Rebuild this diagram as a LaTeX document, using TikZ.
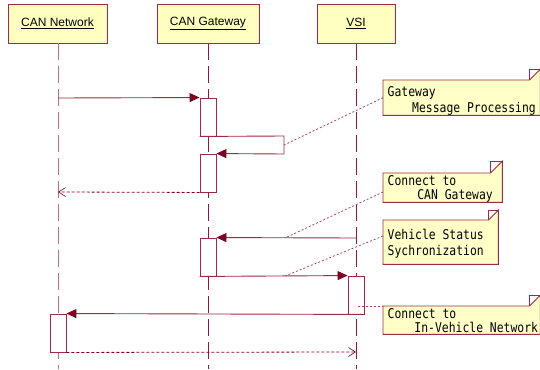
\documentclass[tikz,border=0pt]{standalone}
\usepackage{fontspec}
\usepackage{graphicx}
\setmainfont{Liberation Sans}
\newfontfamily\notefont{DejaVu Sans Mono}
\usetikzlibrary{arrows.meta,calc}
\definecolor{frame}{RGB}{160,40,72}
\definecolor{tipc}{RGB}{128,0,32}
\definecolor{lifea}{RGB}{192,112,128}
\definecolor{lifeb}{RGB}{144,24,56}
\definecolor{headfill}{RGB}{255,255,192}
\definecolor{notefill}{RGB}{255,255,200}
\definecolor{linkc}{RGB}{176,72,100}
\newcommand{\tallline}[1]{\scalebox{1}[1.18]{#1}}
\tikzset{
  headbox/.style={draw=frame,fill=headfill,line width=0.9pt,minimum height=39pt,inner sep=0pt,font=\fontsize{12}{14}\selectfont},
  lifeline/.style={line width=0.9pt,dash pattern=on 17pt off 6pt},
  actbox/.style={draw=frame,fill=white,line width=0.9pt,minimum width=16pt,minimum height=38pt,inner sep=0pt},
  callmsg/.style={draw=frame,line width=0.9pt,-{Triangle[length=10pt,width=9pt,color=tipc]}},
  retmsg/.style={draw=tipc,line width=0.8pt,dash pattern=on 3pt off 2pt,-{Straight Barb[length=7pt,width=9pt,line width=0.6pt]}},
  noteframe/.style={draw=none,fill=none,anchor=north west,inner sep=0pt},
  notetext/.style={anchor=north west,inner xsep=4.5pt,align=left,font=\notefont\fontsize{11.4}{16}\selectfont},
  notelink/.style={draw=linkc,line width=0.8pt,dash pattern=on 2pt off 2pt}
}
\newcommand{\noteshape}[2]{%
  \filldraw[fill=notefill,draw=frame,line width=0.9pt] (#1.north west) -- ([xshift=-#2pt]#1.north east) -- ([yshift=#2pt]#1.north east) -- (#1.south east) -- (#1.south west) -- cycle;
  \draw[frame,line width=0.7pt] ([xshift=-#2pt]#1.north east) -- ([xshift=-#2pt,yshift=#2pt]#1.north east) -- ([yshift=#2pt]#1.north east);
}
\begin{document}
\begin{tikzpicture}[x=1pt,y=-1pt]
\useasboundingbox[fill=white] (0,0) rectangle (540,369);
% heads
\node[headbox,minimum width=99pt] (can) at (57.5,23.5) {\underline{CAN Network}};
\node[headbox,minimum width=102pt] (gw) at (208,23.5) {\underline{CAN Gateway}};
\node[headbox,minimum width=78pt] (vsi) at (356,23.5) {\underline{VSI}};
% lifeline ends
\coordinate (canend) at (58,369);
\coordinate (gwend) at (208,369);
\coordinate (vsiend) at (356,369);
\draw[lifeline,draw=lifea] ([xshift=0.5pt]can.south) -- (canend);
\draw[lifeline,draw=lifeb] (gw.south) -- (gwend);
\draw[lifeline,draw=lifeb] (vsi.south) -- (vsiend);
% activations
\node[actbox] (a1) at (208,117) {};
\node[actbox] (a2) at (208,173) {};
\node[actbox] (a3) at (208,257) {};
\node[actbox] (a4) at (356,295) {};
\node[actbox] (a5) at (58,333) {};
% message anchors
\coordinate (m1s) at (58,98);
\coordinate (selfa) at (284,136);
\coordinate (selfb) at (284,154);
\coordinate (r1e) at (58,192);
\coordinate (m2s) at (356,238);
\coordinate (r2e) at (356,352);
% messages
\draw[callmsg] (m1s) -- (a1.north west);
\draw[callmsg] (a1.south west) -- (selfa) -- (selfb) -- (a2.north east);
\draw[retmsg] (a2.south west) -- (r1e);
\draw[callmsg] (m2s) -- (a3.north east);
\draw[callmsg] (a3.south west) -- (a4.north west);
\draw[callmsg] (a4.south east) -- (a5.north east);
\draw[retmsg] (a5.south east) -- (r2e);
% notes: frames
\node[noteframe,minimum width=157pt,minimum height=35pt] (n1) at (383,80) {};
\node[noteframe,minimum width=119pt,minimum height=29pt] (n2) at (383,173) {};
\node[noteframe,minimum width=115pt,minimum height=44pt] (n3) at (383,220) {};
\node[noteframe,minimum width=157pt,minimum height=28pt] (n4) at (383,306) {};
\noteshape{n1}{11}
\noteshape{n2}{12}
\noteshape{n3}{10}
\noteshape{n4}{11}
% notes: texts
\node[notetext,inner ysep=6.5pt] (t1) at (n1.north west) {\tallline{Gateway}\\\hspace*{2.15em}\tallline{Message Processing}};
\node[notetext,inner ysep=2.5pt,font=\notefont\fontsize{11.4}{13.5}\selectfont] (t2) at (n2.north west) {\tallline{Connect to}\\\hspace*{2.6em}\tallline{CAN Gateway}};
\node[notetext,inner ysep=9.5pt] (t3) at (n3.north west) {\tallline{Vehicle Status}\\\tallline{Sychronization}};
\node[notetext,inner ysep=2.5pt,font=\notefont\fontsize{11.4}{14}\selectfont] (t4) at (n4.north west) {\tallline{Connect to}\\\hspace*{2.35em}\tallline{In-Vehicle Network}};
% note links
\coordinate (l1) at (284,145);
\coordinate (l2a) at (383,192);
\coordinate (l2) at (285,238);
\coordinate (l3a) at (383,236);
\coordinate (l3) at (285,276);
\coordinate (l4) at (358,306);
\draw[notelink] (n1.west) -- (l1);
\draw[notelink] (l2a) -- (l2);
\draw[notelink] (l3a) -- (l3);
\draw[notelink] (l4) -- (n4.north west);
\end{tikzpicture}
\end{document}
